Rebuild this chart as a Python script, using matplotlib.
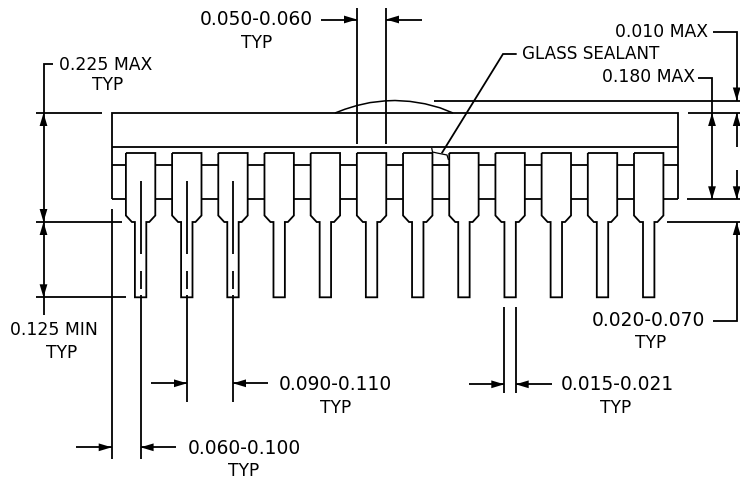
import matplotlib
matplotlib.use("Agg")
import matplotlib.pyplot as plt
from matplotlib.patches import Polygon

W, H = 740, 482
LEAD_COUNT = 12
lead_first, lead_last = 140.6, 648.7
body_left, body_right = 111.6, 677.6
y_body_top, y_cap, y_lead_top, y_frame_top, y_frame_bot = 113, 147, 153, 164.5, 199.3
y_shoulder, y_neck, y_tip = 215.5, 222, 297.3
half_wide, half_narrow, chamfer_in = 14.7, 5.7, 6

# text, x centre, y centre, font size
labels = [
    ("0.050-0.060", 256.5, 19.8, 13.4), ("TYP", 257, 43.5, 12.3),
    ("0.225 MAX", 105.5, 64.5, 12.4), ("TYP", 108, 85.5, 12.3),
    ("GLASS SEALANT", 590.5, 54, 12.1),
    ("0.010 MAX", 662, 32, 12.4), ("0.180 MAX", 649, 77.5, 12.4),
    ("0.125 MIN", 54, 330, 12.4), ("TYP", 62, 353, 12.3),
    ("0.090-0.110", 335.5, 385, 13.4), ("TYP", 336, 408, 12.3),
    ("0.060-0.100", 244.5, 448, 13.4), ("TYP", 244, 470.5, 12.3),
    ("0.015-0.021", 617, 385, 13.4), ("TYP", 616, 408, 12.3),
    ("0.020-0.070", 648.5, 321, 13.4), ("TYP", 651, 342.5, 12.3),
]

# polylines of the dimension work
dim_lines = [
    [(357, 8), (357, 143.5)], [(385.7, 8), (385.7, 143.5)],
    [(321, 19.5), (357, 19.5)], [(386, 19.5), (422, 19.5)],
    [(53, 63.5), (43.5, 63.5), (43.5, 222)], [(43.5, 222), (43.5, 315)],
    [(36, 113), (102, 113)], [(36, 222), (122, 222)], [(36, 297.3), (125.6, 297.3)],
    [(111.7, 208.5), (111.7, 459)],
    [(434, 100.5), (740, 100.5)], [(688, 113), (740, 113)],
    [(686.7, 199.3), (740, 199.3)], [(666.7, 222), (740, 222)],
    [(698, 77.5), (712, 77.5), (712, 199.3)],
    [(713, 31.5), (736.7, 31.5), (736.7, 100.5)], [(736.7, 113), (736.7, 147)],
    [(736.7, 170), (736.7, 199.3)], [(736.7, 222), (736.7, 320.7), (713.3, 320.7)],
    [(516.7, 54), (503, 54), (441.7, 153.3)],
    [(151, 383.3), (187, 383.3)], [(233, 383.3), (268, 383.3)],
    [(187, 295), (187, 401.7)], [(233, 295), (233, 401.7)], [(140.6, 295), (140.6, 459)],
    [(76, 447.3), (111.7, 447.3)], [(140.6, 447.3), (176, 447.3)],
    [(504.3, 306.7), (504.3, 392.7)], [(515.7, 306.7), (515.7, 392.7)],
    [(469, 384.3), (504.3, 384.3)], [(515.7, 384.3), (551.7, 384.3)],
]
# arrow tip x, tip y, direction
arrows = [
    (357, 19.5, "r"), (386, 19.5, "l"),
    (43.5, 113, "u"), (43.5, 222, "d"), (43.5, 222, "u"), (43.5, 297.3, "d"),
    (712, 113, "u"), (712, 199.3, "d"),
    (736.7, 100.5, "d"), (736.7, 113, "u"), (736.7, 199.3, "d"), (736.7, 222, "u"),
    (187, 383.3, "r"), (233, 383.3, "l"),
    (111.7, 447.3, "r"), (140.6, 447.3, "l"),
    (504.3, 384.3, "r"), (515.7, 384.3, "l"),
]
bump = [(335, 113), (345, 109.2), (357, 105.5), (370, 102.6), (385, 100.9), (395, 100.5),
        (410, 101.4), (425, 103.8), (440, 107.8), (453, 113)]
squiggle = [(431.7, 148), (432.5, 152), (437, 153), (442, 154), (447, 155), (448.5, 160)]
center_solid = (181, 254)
center_dash = (270.7, 289)
centered_leads = 3

fig = plt.figure(figsize=(W / 100, H / 100), dpi=100)
ax = fig.add_axes([0, 0, 1, 1])
ax.set_xlim(0, W)
ax.set_ylim(H, 0)
ax.axis("off")
LW = 1.3


def line(points, lw=LW):
    xs, ys = zip(*points)
    ax.plot(xs, ys, color="black", lw=lw, solid_capstyle="butt", solid_joinstyle="miter", zorder=2)


def arrow(x, y, d, length=13, half=3.9):
    ux, uy = {"r": (-1, 0), "l": (1, 0), "u": (0, 1), "d": (0, -1)}[d]
    bx, by = x + ux * length, y + uy * length
    nx, ny = -uy * half, ux * half
    ax.add_patch(Polygon([(x, y), (bx + nx, by + ny), (bx - nx, by - ny)],
                         closed=True, fc="black", ec="none", zorder=3))


step = (lead_last - lead_first) / (LEAD_COUNT - 1)
centers = [lead_first + i * step for i in range(LEAD_COUNT)]

# body
line([(body_left, y_frame_bot), (body_left, y_body_top), (body_right, y_body_top),
      (body_right, y_frame_bot)])
line([(body_left, y_cap), (body_right, y_cap)])
edges = [body_left] + [v for c in centers for v in (c - half_wide, c + half_wide)] + [body_right]
for i in range(0, len(edges), 2):
    line([(edges[i], y_frame_top), (edges[i + 1], y_frame_top)])
    line([(edges[i], y_frame_bot), (edges[i + 1], y_frame_bot)])

# leads
for c in centers:
    line([(c - half_wide, y_lead_top), (c + half_wide, y_lead_top),
          (c + half_wide, y_shoulder), (c + half_wide - chamfer_in, y_neck),
          (c + half_narrow, y_neck), (c + half_narrow, y_tip), (c - half_narrow, y_tip),
          (c - half_narrow, y_neck), (c - half_wide + chamfer_in, y_neck),
          (c - half_wide, y_shoulder), (c - half_wide, y_lead_top)])
for c in centers[:centered_leads]:
    line([(c, center_solid[0]), (c, center_solid[1])])
    line([(c, center_dash[0]), (c, center_dash[1])])

line(bump, lw=1.1)
line(squiggle, lw=0.9)
for seg in dim_lines:
    line(seg)
for a in arrows:
    arrow(*a)

for s, x, y, size in labels:
    ax.text(x, y, s, ha="center", va="center", fontsize=size, color="black",
            family="DejaVu Sans", fontweight="normal")

fig.savefig("out.png", dpi=100, facecolor="white")
